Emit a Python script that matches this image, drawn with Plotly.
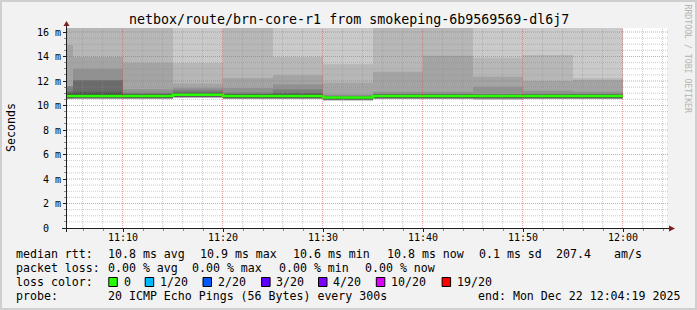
import datetime as dt
import plotly.graph_objects as go

# ---------------- data ----------------
bucket_start = [
    "2025-12-22 11:00:00", "2025-12-22 11:05:00", "2025-12-22 11:10:00",
    "2025-12-22 11:15:00", "2025-12-22 11:20:00", "2025-12-22 11:25:00",
    "2025-12-22 11:30:00", "2025-12-22 11:35:00", "2025-12-22 11:40:00",
    "2025-12-22 11:45:00", "2025-12-22 11:50:00", "2025-12-22 11:55:00",
]
last_bucket_end = "2025-12-22 12:00:00"

# 20 sorted ping RTTs (ms) per 5-minute bucket
ping_1100 = [10.52, 10.54, 10.56, 10.57, 10.58, 10.59, 10.60, 10.62, 10.68, 10.76,
             10.80, 10.98, 11.05, 11.15, 11.55, 11.60, 14.94, 17.20, 18.50, 21.00]
ping_1105 = [10.51, 10.53, 10.55, 10.57, 10.58, 10.59, 10.61, 10.63, 10.69, 10.76,
             10.80, 11.00, 11.13, 12.05, 12.07, 13.00, 13.96, 16.90, 18.20, 20.50]
ping_1110 = [10.52, 10.54, 10.56, 10.57, 10.58, 10.60, 10.61, 10.62, 10.68, 10.76,
             10.80, 10.88, 10.93, 10.97, 11.05, 11.33, 13.50, 17.00, 18.80, 22.00]
ping_1115 = [10.62, 10.64, 10.66, 10.67, 10.68, 10.69, 10.70, 10.72, 10.78, 10.86,
             10.90, 10.97, 11.02, 11.10, 11.27, 11.45, 11.80, 13.47, 17.50, 19.50]
ping_1120 = [10.52, 10.54, 10.56, 10.57, 10.58, 10.59, 10.60, 10.62, 10.68, 10.76,
             10.80, 10.88, 10.93, 10.97, 11.06, 11.43, 12.24, 17.30, 19.00, 21.00]
ping_1125 = [10.52, 10.54, 10.55, 10.57, 10.58, 10.59, 10.60, 10.62, 10.68, 10.76,
             10.80, 10.90, 10.97, 11.05, 11.32, 11.73, 12.47, 13.96, 18.00, 20.00]
ping_1130 = [10.39, 10.41, 10.43, 10.44, 10.45, 10.46, 10.47, 10.49, 10.55, 10.63,
             10.67, 10.70, 10.73, 10.76, 10.80, 10.90, 11.86, 13.36, 17.80, 19.80]
ping_1135 = [10.52, 10.54, 10.56, 10.57, 10.58, 10.59, 10.60, 10.62, 10.68, 10.76,
             10.80, 10.86, 10.90, 10.92, 10.95, 11.13, 12.76, 17.00, 18.50, 20.50]
ping_1140 = [10.52, 10.54, 10.56, 10.57, 10.58, 10.59, 10.60, 10.62, 10.68, 10.76,
             10.80, 10.86, 10.90, 10.92, 10.95, 11.13, 14.07, 17.50, 19.00, 21.50]
ping_1145 = [10.45, 10.48, 10.51, 10.54, 10.56, 10.58, 10.60, 10.62, 10.68, 10.76,
             10.80, 10.84, 10.87, 10.90, 10.94, 11.53, 12.35, 13.90, 17.20, 19.00]
ping_1150 = [10.52, 10.54, 10.56, 10.57, 10.58, 10.59, 10.60, 10.62, 10.68, 10.76,
             10.80, 10.86, 10.89, 10.92, 10.95, 11.20, 12.00, 14.12, 17.50, 20.00]
ping_1155 = [10.52, 10.54, 10.56, 10.57, 10.58, 10.59, 10.60, 10.62, 10.68, 10.76,
             10.80, 10.86, 10.89, 10.92, 10.95, 11.13, 12.08, 12.22, 16.80, 18.50]

median_rtt = [10.78, 10.78, 10.78, 10.88, 10.78, 10.78, 10.65, 10.78, 10.78, 10.78, 10.78, 10.78]

y_tick_vals = [0, 2, 4, 6, 8, 10, 12, 14, 16]
y_tick_text = ["0\u00a0\u00a0", "2 m", "4 m", "6 m", "8 m", "10 m", "12 m", "14 m", "16 m"]

title_text = "netbox/route/brn-core-r1 from smokeping-6b9569569-dl6j7"
rtt_items = ["10.8 ms avg", "10.9 ms max", "10.6 ms min", "10.8 ms now", "0.1 ms sd", "207.4", "am/s"]
loss_items = ["0.00 % avg", "0.00 % max", "0.00 % min", "0.00 % now"]
loss_labels = ["0", "1/20", "2/20", "3/20", "4/20", "10/20", "19/20"]
loss_colors = ["#26ff00", "#00b8ff", "#0059ff", "#5e00ff", "#7e00ff", "#dd00ff", "#ff0000"]
probe_text = "20 ICMP Echo Pings (56 Bytes) every 300s"
end_text = "end: Mon Dec 22 12:04:19 2025"

pings = [ping_1100, ping_1105, ping_1110, ping_1115, ping_1120, ping_1125,
         ping_1130, ping_1135, ping_1140, ping_1145, ping_1150, ping_1155]

# ---------------- geometry ----------------
W, H = 697, 310
L, T, PW, PH = 67, 28, 600, 200
R, B = W - L - PW, H - T - PH
MONO = "DejaVu Sans Mono"


def px(x):
    return (x - L) / PW


def py(y):
    return (T + PH - y) / PH


xs = bucket_start + [last_bucket_end]
fig = go.Figure()

# smoke bands (smokeping style: band k between ping k and ping 21-k)
half = 10
for k in range(1, half + 1):
    lower = [p[k - 1] for p in pings]
    upper = [p[20 - k] for p in pings]
    g = int(190 / half * (half - k)) + 50
    col = "#%02x%02x%02x" % (g, g, g)
    fig.add_trace(go.Scatter(x=xs, y=lower + [lower[-1]], mode="lines",
                             line=dict(width=0, shape="hv"), hoverinfo="skip", showlegend=False))
    fig.add_trace(go.Scatter(x=xs, y=upper + [upper[-1]], mode="lines", fill="tonexty",
                             fillcolor=col, line=dict(width=0, shape="hv"),
                             hoverinfo="skip", showlegend=False))

# median line
fig.add_trace(go.Scatter(x=xs, y=median_rtt + [median_rtt[-1]], mode="lines",
                         line=dict(color=loss_colors[0], width=2.6, shape="hv"),
                         hoverinfo="skip", showlegend=False))

t_start = dt.datetime(2025, 12, 22, 11, 4, 24)
t_end = t_start + dt.timedelta(hours=1)
y_top = PH / 12.25

shapes = []
# grid drawn above the smoke (like rrdtool)
t = dt.datetime(2025, 12, 22, 11, 6)
while t < t_end:
    major = t.minute % 10 == 0
    col = "rgba(222,79,79,0.55)" if major else "rgba(143,143,143,0.45)"
    tt = t - dt.timedelta(seconds=3)
    shapes.append(dict(type="line", xref="x", yref="paper", x0=tt, x1=tt, y0=0, y1=1,
                       line=dict(color=col, width=1, dash="1px,1px"), layer="above"))
    t += dt.timedelta(minutes=2)
for i in range(1, 33):
    v = i * 0.5
    major = i % 4 == 0
    col = "rgba(222,79,79,0.55)" if major else "rgba(143,143,143,0.45)"
    shapes.append(dict(type="line", xref="paper", yref="y", x0=0, x1=px(669), y0=v, y1=v,
                       line=dict(color=col, width=1, dash="1px,1px"), layer="above"))

# axes lines and arrows
shapes.append(dict(type="line", xref="paper", yref="paper", x0=px(62), x1=px(670), y0=py(228.5), y1=py(228.5),
                   line=dict(color="#1f1f1f", width=1), layer="above"))
shapes.append(dict(type="line", xref="paper", yref="paper", x0=px(66.5), x1=px(66.5), y0=py(232), y1=py(24),
                   line=dict(color="#1f1f1f", width=1), layer="above"))
shapes.append(dict(type="path", xref="paper", yref="paper",
                   path="M %f,%f L %f,%f L %f,%f Z" % (px(63.5), py(26), px(69.5), py(26), px(66.5), py(21)),
                   fillcolor="#7f1f1f", line=dict(width=0), layer="above"))
shapes.append(dict(type="path", xref="paper", yref="paper",
                   path="M %f,%f L %f,%f L %f,%f Z" % (px(669), py(225.5), px(669), py(231.5), px(675), py(228.5)),
                   fillcolor="#7f1f1f", line=dict(width=0), layer="above"))

# image frame
shapes.append(dict(type="rect", xref="paper", yref="paper", x0=px(0), x1=px(2), y0=py(0), y1=py(310),
                   fillcolor="#cfcfcf", line=dict(width=0), layer="above"))
shapes.append(dict(type="rect", xref="paper", yref="paper", x0=px(0), x1=px(697), y0=py(0), y1=py(2),
                   fillcolor="#cfcfcf", line=dict(width=0), layer="above"))
shapes.append(dict(type="rect", xref="paper", yref="paper", x0=px(695), x1=px(697), y0=py(0), y1=py(310),
                   fillcolor="#cfcfcf", line=dict(width=0), layer="above"))
shapes.append(dict(type="rect", xref="paper", yref="paper", x0=px(0), x1=px(697), y0=py(308), y1=py(310),
                   fillcolor="#cfcfcf", line=dict(width=0), layer="above"))

# legend swatches
label_x = [123.6, 160.0, 217.8, 276.4, 333.3, 391.1, 456.9]
for lx, c in zip(label_x, loss_colors):
    shapes.append(dict(type="rect", xref="paper", yref="paper", x0=px(lx - 14.8), x1=px(lx - 6.3),
                       y0=py(277.5), y1=py(286.5), fillcolor=c, line=dict(color="#000000", width=1),
                       layer="above"))

ann = []


def text(x, y, s, size=11.6, anchor="left", color="#000000", angle=0):
    ann.append(dict(x=px(x), y=py(y), xref="paper", yref="paper", text=s.replace(" ", "\u00a0"),
                    showarrow=False, xanchor=anchor, yanchor="middle", textangle=angle,
                    borderpad=0, borderwidth=0,
                    font=dict(family=MONO, size=size, color=color)))


text(348.5, 19.5, title_text, size=13.3, anchor="center")
text(11, 128, "Seconds", size=11.6, anchor="center", angle=-90)
text(687.5, 59, "RRDTOOL / TOBI OETIKER", size=8.2, anchor="center", color="#b4b4b4", angle=90)

text(16, 254, "median rtt:")
for xx, s in zip([107.6, 200.4, 293.3, 386.7, 479.0, 555.6, 614.2], rtt_items):
    text(xx, 254, s)
text(16, 268, "packet loss:")
for xx, s in zip([107.6, 192.4, 279.1, 364.9], loss_items):
    text(xx, 268, s)
text(16, 282, "loss color:")
for xx, s in zip(label_x, loss_labels):
    text(xx, 282, s)
text(16, 296, "probe:")
text(107.6, 296, probe_text)
text(680, 296, end_text, anchor="right")

fig.update_layout(
    width=W, height=H, margin=dict(l=L, r=R, t=T, b=B, pad=0),
    paper_bgcolor="#f2f2f2", plot_bgcolor="#ffffff",
    shapes=shapes, annotations=ann, showlegend=False,
    font=dict(family=MONO, color="#000000"),
)
fig.update_xaxes(type="date", range=[t_start, t_end], tickmode="linear",
                 tick0="2025-12-22 11:00:00", dtick=600000, tickformat="%H:%M",
                 showgrid=False, zeroline=False, showline=False,
                 ticks="outside", ticklen=3, tickcolor="#1f1f1f", tickwidth=1,
                 ticklabelstandoff=-3,
                 tickfont=dict(family=MONO, size=10, color="#000000"),
                 minor=dict(tickmode="linear", tick0="2025-12-22 11:00:00", dtick=120000,
                            ticks="outside", ticklen=2, tickcolor="#8f8f8f", showgrid=False),
                 layer="above traces", fixedrange=True)
fig.update_yaxes(range=[0, y_top], tickmode="array", tickvals=y_tick_vals, ticktext=y_tick_text,
                 showgrid=False, zeroline=False, showline=False,
                 ticks="outside", ticklen=3, tickcolor="#1f1f1f", tickwidth=1,
                 tickfont=dict(family=MONO, size=10, color="#000000"),
                 minor=dict(tickmode="linear", tick0=0, dtick=0.5, ticks="outside", ticklen=2,
                            tickcolor="#8f8f8f", showgrid=False),
                 layer="above traces", fixedrange=True)

fig.write_html("out.html")
